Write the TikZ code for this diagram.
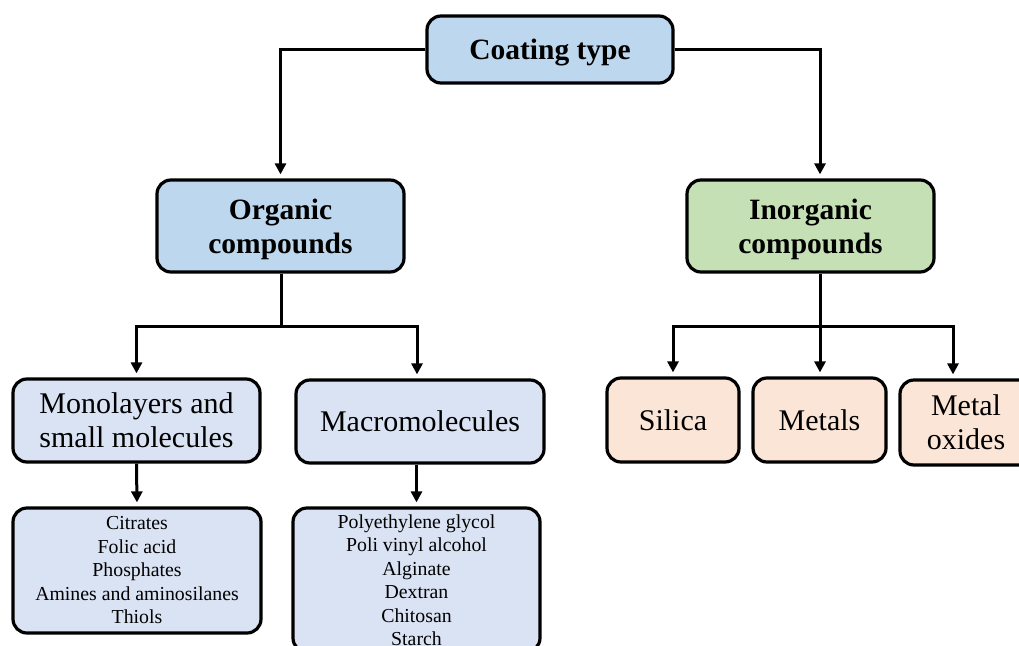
\documentclass[tikz,border=0pt]{standalone}
\usepackage{fontspec}
\setmainfont{Liberation Serif}
\usetikzlibrary{arrows.meta}
\definecolor{hdrblue}{HTML}{BDD7EE}
\definecolor{hdrgreen}{HTML}{C5E0B4}
\definecolor{lightblue}{HTML}{DAE3F3}
\definecolor{peach}{HTML}{FBE5D6}
\tikzset{
  cbox/.style={draw=black, line width=3.2pt, rounded corners=14pt, inner sep=0pt, align=center},
  hdr/.style={cbox, text depth=-3.6pt, font={\fontsize{29.5}{34}\selectfont\bfseries}},
  mid/.style={cbox, font={\fontsize{30}{34}\selectfont}},
  lst/.style={cbox, fill=lightblue, font={\fontsize{19.8}{23.5}\selectfont}},
  conn/.style={line width=3pt},
  arr/.style={conn, -{Triangle[length=11pt,width=11pt]}, shorten >=4pt},
}
\begin{document}
\begin{tikzpicture}[x=1pt,y=-1pt]
\useasboundingbox (0,0) rectangle (1019,645);
\clip (0,0) rectangle (1019,645);
% level 1
\node[hdr, fill=hdrblue, minimum width=246pt, minimum height=67pt] (top) at (550,49.5) {Coating type};
% level 2
\node[hdr, fill=hdrblue, minimum width=247pt, minimum height=92pt] (org) at (280.5,226) {Organic\\compounds};
\node[hdr, fill=hdrgreen, minimum width=247pt, minimum height=92pt] (inorg) at (810.5,226) {Inorganic\\compounds};
% level 3
\node[mid, fill=lightblue, text depth=-5.7pt, minimum width=247pt, minimum height=83pt] (mono) at (136.5,420.5) {Monolayers and\\small molecules};
\node[mid, fill=lightblue, text depth=-3pt, minimum width=248pt, minimum height=83pt] (macro) at (420,421.5) {Macromolecules};
\node[mid, fill=peach, text depth=-4pt, minimum width=132pt, minimum height=84pt] (silica) at (673,420) {Silica};
\node[mid, fill=peach, text depth=-4pt, minimum width=133pt, minimum height=84pt] (metals) at (819.5,420) {Metals};
\node[mid, fill=peach, text depth=-1pt, minimum width=132pt, minimum height=85pt] (oxides) at (966,422.5) {Metal\\oxides};
% level 4
\node[lst, minimum width=248pt, minimum height=125pt] (monolist) at (137,570.5) {Citrates\\Folic acid\\Phosphates\\Amines and aminosilanes\\Thiols};
\node[lst, minimum width=247pt, minimum height=144pt] (macrolist) at (416.5,580) {Polyethylene glycol\\Poli vinyl alcohol\\Alginate\\Dextran\\Chitosan\\Starch};
% connectors
\draw[arr] (top.west) -| (org.north);
\draw[arr] (top.east) -| ([xshift=9.5pt]inorg.north);
\coordinate (j1) at (281,326);
\coordinate (j2) at (820,326);
\draw[conn] (org.south -| j1) -- (j1);
\draw[arr] (j1) -| (mono.north);
\draw[arr] (j1) -| ([xshift=-3pt]macro.north);
\draw[arr] (inorg.south -| j2) -- (j2 |- metals.north);
\draw[arr] (j2) -| (silica.north);
\draw[arr] (j2) -| ([xshift=-13pt]oxides.north);
\draw[arr] (mono.south) -- (monolist.north);
\draw[arr] (macro.south -| macrolist.north) -- (macrolist.north);
\end{tikzpicture}
\end{document}
